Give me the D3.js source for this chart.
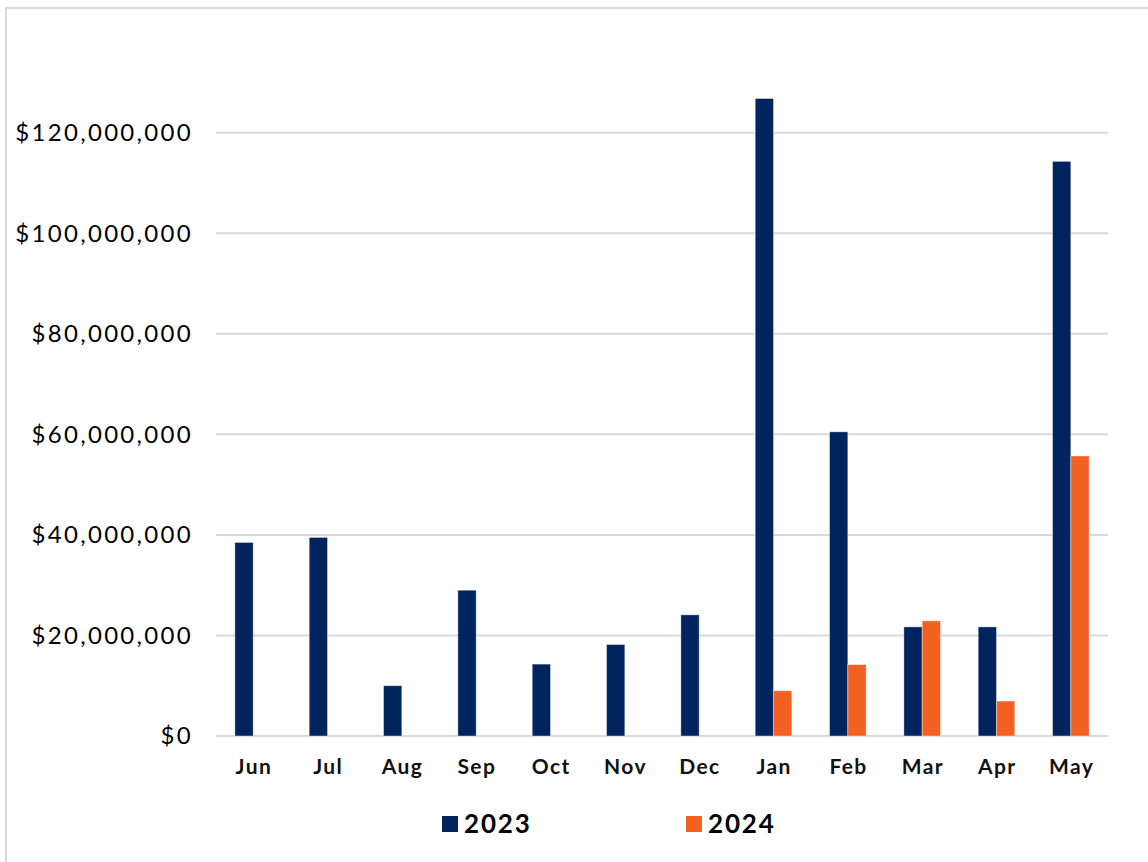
<!DOCTYPE html>
<html>
<head>
<meta charset="utf-8">
<script src="https://cdn.jsdelivr.net/npm/d3@7"></script>
<style>
  html, body { margin: 0; padding: 0; background: #fff; }
  svg { display: block; font-family: 'Lato', 'Open Sans', sans-serif; }
</style>
</head>
<body>
<div id="chart"></div>
<script>
const months = ['Jun', 'Jul', 'Aug', 'Sep', 'Oct', 'Nov', 'Dec', 'Jan', 'Feb', 'Mar', 'Apr', 'May'];
const seriesNames = ['2023', '2024'];
const values2023 = [38.5e6, 39.5e6, 10.0e6, 29.0e6, 14.3e6, 18.2e6, 24.1e6, 126.8e6, 60.5e6, 21.7e6, 21.7e6, 114.3e6];
const values2024 = [null, null, null, null, null, null, null, 9.0e6, 14.2e6, 22.9e6, 6.95e6, 55.7e6];
const yTicks = [0, 20e6, 40e6, 60e6, 80e6, 100e6, 120e6];
const colors = ['#00245d', '#f26122'];

const W = 1148, H = 862;
const plotLeft = 216, plotRight = 1108, plotTop = 132.7, plotBottom = 736;

const svg = d3.select('#chart').append('svg')
  .attr('width', W).attr('height', H);

// outer frame (cropped on right/bottom)
svg.append('path')
  .attr('d', `M6,${H + 2} V8 H${W + 2}`)
  .attr('fill', 'none')
  .attr('stroke', '#d9d9d9')
  .attr('stroke-width', 2);

const x = d3.scaleBand().domain(months).range([plotLeft, plotRight]);
const x1 = d3.scaleBand().domain(seriesNames)
  .range([x.bandwidth() / 2 - 18.3, x.bandwidth() / 2 + 18.3]);
const y = d3.scaleLinear().domain([0, 120e6]).range([plotBottom, plotTop]);

const fmt = v => '$' + d3.format(',')(v);

// gridlines
svg.append('g')
  .selectAll('line')
  .data(yTicks)
  .join('line')
  .attr('x1', plotLeft).attr('x2', plotRight)
  .attr('y1', d => y(d)).attr('y2', d => y(d))
  .attr('stroke', '#d9d9d9')
  .attr('stroke-width', 2);

// y labels
svg.append('g')
  .selectAll('text')
  .data(yTicks)
  .join('text')
  .attr('x', 193)
  .attr('y', d => y(d))
  .attr('dy', '0.35em')
  .attr('text-anchor', 'end')
  .attr('font-size', 24)
  .attr('letter-spacing', 2.3)
  .attr('fill', '#000')
  .text(fmt);

// bars
const rows = months.map((m, i) => ({ month: m, vals: [values2023[i], values2024[i]] }));
const groups = svg.append('g')
  .selectAll('g')
  .data(rows)
  .join('g')
  .attr('transform', d => `translate(${x(d.month)},0)`);

groups.selectAll('rect')
  .data(d => d.vals.map((v, j) => ({ key: seriesNames[j], v, j })).filter(o => o.v != null))
  .join('rect')
  .attr('x', d => x1(d.key))
  .attr('width', x1.bandwidth())
  .attr('y', d => y(d.v))
  .attr('height', d => plotBottom - y(d.v))
  .attr('fill', d => colors[d.j])
  .attr('stroke', '#ffffff')
  .attr('stroke-opacity', 0.5)
  .attr('stroke-width', 0.8);

// month labels
svg.append('g')
  .selectAll('text')
  .data(months)
  .join('text')
  .attr('x', d => x(d) + x.bandwidth() / 2 + 0.7)
  .attr('y', 767)
  .attr('dy', '0.35em')
  .attr('text-anchor', 'middle')
  .attr('font-size', 21)
  .attr('letter-spacing', 1.4)
  .attr('font-weight', 'bold')
  .attr('fill', '#111')
  .text(d => d);

// legend
const legendX = [442, 686];
const legend = svg.append('g')
  .selectAll('g')
  .data(seriesNames)
  .join('g')
  .attr('transform', (d, i) => `translate(${legendX[i]},816)`);
legend.append('rect')
  .attr('width', 16).attr('height', 16)
  .attr('fill', (d, i) => colors[i]);
legend.append('text')
  .attr('x', 22).attr('y', 8)
  .attr('dy', '0.36em')
  .attr('font-size', 26)
  .attr('letter-spacing', 1.8)
  .attr('font-weight', 'bold')
  .attr('fill', '#000')
  .text(d => d);
</script>
</body>
</html>
